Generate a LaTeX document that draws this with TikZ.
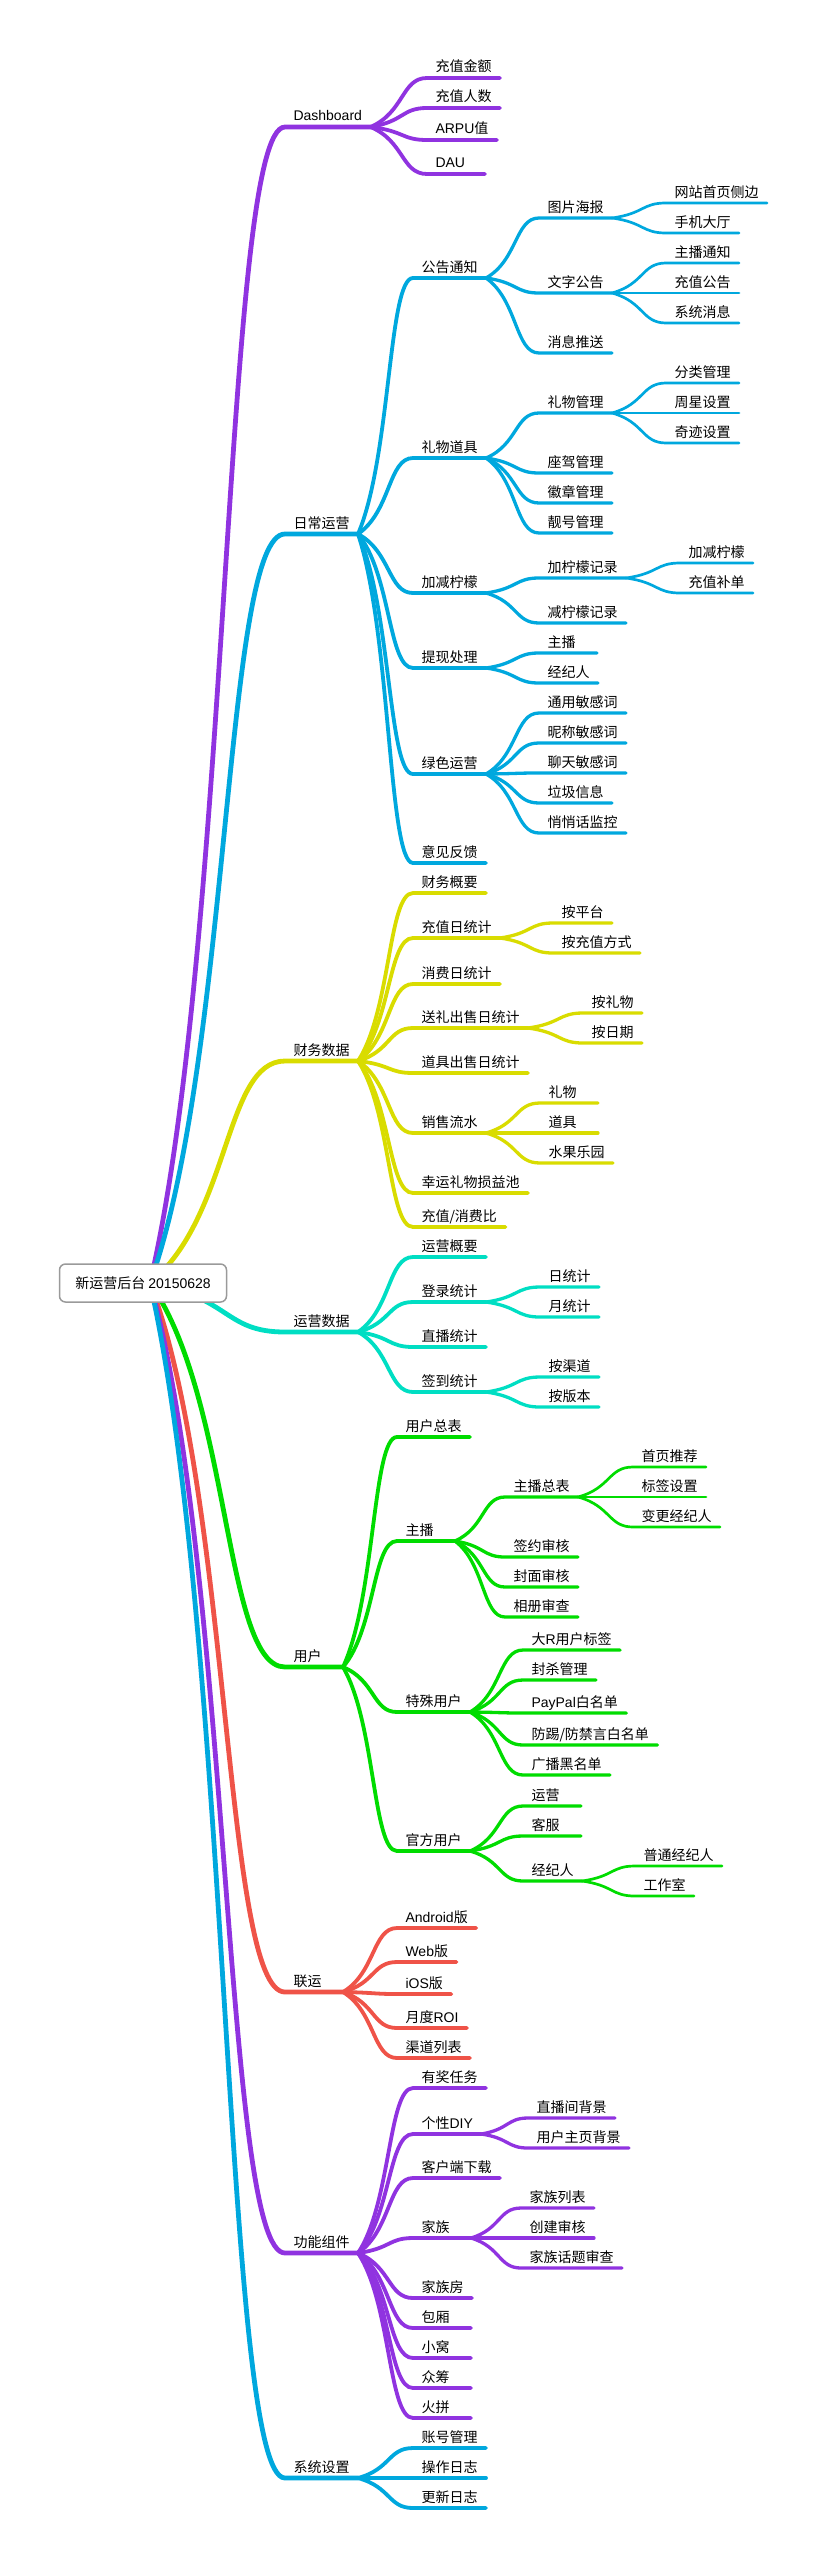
\documentclass[tikz,border=0pt]{standalone}
\usepackage{fontspec}
\setmainfont{Noto Sans CJK SC}
\newfontfamily\lat{Liberation Sans}
\usetikzlibrary{calc}
\definecolor{cpur}{HTML}{9033E0}
\definecolor{ccya}{HTML}{00A8DE}
\definecolor{cyel}{HTML}{D9DC00}
\definecolor{ctea}{HTML}{00DEC3}
\definecolor{cgre}{HTML}{00DC00}
\definecolor{cred}{HTML}{EF5348}
\definecolor{cbox}{HTML}{9A9A9A}
\tikzset{
  tp/.style={anchor=south west, inner xsep=8.5pt, inner ysep=6pt, outer sep=0pt, text depth=0pt, font=\fontsize{14}{16}\selectfont},
  short/.style={text width=41pt, align=left},
  br/.style={to path={let \p1=(\tikztostart), \p2=(\tikztotarget) in .. controls ({\x1+0.6*(\x2-\x1)},{\y1+0.3*(\y2-\y1)}) and ({\x1+0.55*(\x2-\x1)},\y2) .. (\tikztotarget)}},
  l1/.style={line width=4.8pt, line cap=round},
  l2/.style={line width=3.8pt, line cap=round},
  l3/.style={line width=3.3pt, line cap=round},
  l4/.style={line width=2.7pt, line cap=round},
  rootbox/.style={draw=cbox, line width=1.5pt, rounded corners=6pt, fill=white, minimum width=167pt, minimum height=38pt, inner sep=0pt, font=\fontsize{14}{16}\selectfont}
}
\begin{document}
\begin{tikzpicture}[x=1pt,y=-1pt]
\useasboundingbox (0,0) rectangle (827,2566);
\coordinate (hub) at (150,1283);

%% ---------------- Dashboard
\begin{scope}[draw=cpur]
\node[tp] (dash) at (285,127) {\lat Dashboard};
\draw[l1] (hub) to[br] (dash.south west) -- (dash.south east);
\node[tp] (d1) at (427,78) {充值金额};
\node[tp] (d2) at (427,108) {充值人数};
\node[tp] (d3) at (427,140) {{\lat ARPU}值};
\node[tp,short] (d4) at (427,174) {\lat DAU};
\foreach \c in {d1,d2,d3,d4} \draw[l2] (dash.south east) to[br] (\c.south west) -- (\c.south east);
\end{scope}

%% ---------------- 日常运营
\begin{scope}[draw=ccya]
\node[tp] (rc) at (285,534) {日常运营};
\draw[l1] (hub) to[br] (rc.south west) -- (rc.south east);
\node[tp] (gg) at (413,278) {公告通知};
\node[tp] (lw) at (413,458) {礼物道具};
\node[tp] (jj) at (413,593) {加减柠檬};
\node[tp] (tx) at (413,668) {提现处理};
\node[tp] (ls) at (413,774) {绿色运营};
\node[tp] (yj) at (413,863) {意见反馈};
\foreach \c in {gg,lw,jj,tx,ls,yj} \draw[l2] (rc.south east) to[br] (\c.south west) -- (\c.south east);
% 公告通知
\node[tp] (tp1) at (539,218) {图片海报};
\node[tp] (wz) at (539,293) {文字公告};
\node[tp] (xx) at (539,353) {消息推送};
\foreach \c in {tp1,wz,xx} \draw[l3] (gg.south east) to[br] (\c.south west) -- (\c.south east);
\node[tp] (tp1a) at (666,203) {网站首页侧边};
\node[tp] (tp1b) at (666,233) {手机大厅};
\foreach \c in {tp1a,tp1b} \draw[l4] (tp1.south east) to[br] (\c.south west) -- (\c.south east);
\node[tp] (wza) at (666,263) {主播通知};
\node[tp] (wzb) at (666,293) {充值公告};
\node[tp] (wzc) at (666,323) {系统消息};
\foreach \c in {wza,wzb,wzc} \draw[l4] (wz.south east) to[br] (\c.south west) -- (\c.south east);
% 礼物道具
\node[tp] (lwgl) at (539,413) {礼物管理};
\node[tp] (zj) at (539,473) {座驾管理};
\node[tp] (hz) at (539,503) {徽章管理};
\node[tp] (lh) at (539,533) {靓号管理};
\foreach \c in {lwgl,zj,hz,lh} \draw[l3] (lw.south east) to[br] (\c.south west) -- (\c.south east);
\node[tp] (fl) at (666,383) {分类管理};
\node[tp] (zx) at (666,413) {周星设置};
\node[tp] (qj) at (666,443) {奇迹设置};
\foreach \c in {fl,zx,qj} \draw[l4] (lwgl.south east) to[br] (\c.south west) -- (\c.south east);
% 加减柠檬
\node[tp] (jnm) at (539,578) {加柠檬记录};
\node[tp] (jian) at (539,623) {减柠檬记录};
\foreach \c in {jnm,jian} \draw[l3] (jj.south east) to[br] (\c.south west) -- (\c.south east);
\node[tp] (jnma) at (680,563) {加减柠檬};
\node[tp] (jnmb) at (680,593) {充值补单};
\foreach \c in {jnma,jnmb} \draw[l4] (jnm.south east) to[br] (\c.south west) -- (\c.south east);
% 提现处理
\node[tp,short] (txa) at (539,653) {主播};
\node[tp] (txb) at (539,683) {经纪人};
\foreach \c in {txa,txb} \draw[l3] (tx.south east) to[br] (\c.south west) -- (\c.south east);
% 绿色运营
\node[tp] (lsa) at (539,713) {通用敏感词};
\node[tp] (lsb) at (539,743) {昵称敏感词};
\node[tp] (lsc) at (539,773) {聊天敏感词};
\node[tp] (lsd) at (539,803) {垃圾信息};
\node[tp] (lse) at (539,833) {悄悄话监控};
\foreach \c in {lsa,lsb,lsc,lsd,lse} \draw[l3] (ls.south east) to[br] (\c.south west) -- (\c.south east);
\end{scope}

%% ---------------- 财务数据
\begin{scope}[draw=cyel]
\node[tp] (cw) at (285,1061) {财务数据};
\draw[l1] (hub) to[br] (cw.south west) -- (cw.south east);
\node[tp] (cwa) at (413,893) {财务概要};
\node[tp] (cwb) at (413,938) {充值日统计};
\node[tp] (cwc) at (413,984) {消费日统计};
\node[tp] (cwd) at (413,1028) {送礼出售日统计};
\node[tp] (cwe) at (413,1073) {道具出售日统计};
\node[tp] (cwf) at (413,1133) {销售流水};
\node[tp] (cwg) at (413,1193) {幸运礼物损益池};
\node[tp] (cwh) at (413,1227) {充值/消费比};
\foreach \c in {cwa,cwb,cwc,cwd,cwe,cwf,cwg,cwh} \draw[l2] (cw.south east) to[br] (\c.south west) -- (\c.south east);
\node[tp] (cwb1) at (553,923) {按平台};
\node[tp] (cwb2) at (553,953) {按充值方式};
\foreach \c in {cwb1,cwb2} \draw[l3] (cwb.south east) to[br] (\c.south west) -- (\c.south east);
\node[tp] (cwd1) at (583,1013) {按礼物};
\node[tp] (cwd2) at (583,1043) {按日期};
\foreach \c in {cwd1,cwd2} \draw[l3] (cwd.south east) to[br] (\c.south west) -- (\c.south east);
\node[tp,short] (cwf1) at (540,1103) {礼物};
\node[tp,short] (cwf2) at (540,1133) {道具};
\node[tp] (cwf3) at (540,1163) {水果乐园};
\foreach \c in {cwf1,cwf2,cwf3} \draw[l3] (cwf.south east) to[br] (\c.south west) -- (\c.south east);
\end{scope}

%% ---------------- 运营数据
\begin{scope}[draw=ctea]
\node[tp] (yy) at (285,1332) {运营数据};
\draw[l1] (hub) to[br] (yy.south west) -- (yy.south east);
\node[tp] (yya) at (413,1257) {运营概要};
\node[tp] (yyb) at (413,1302) {登录统计};
\node[tp] (yyc) at (413,1347) {直播统计};
\node[tp] (yyd) at (413,1392) {签到统计};
\foreach \c in {yya,yyb,yyc,yyd} \draw[l2] (yy.south east) to[br] (\c.south west) -- (\c.south east);
\node[tp] (yyb1) at (540,1287) {日统计};
\node[tp] (yyb2) at (540,1317) {月统计};
\foreach \c in {yyb1,yyb2} \draw[l3] (yyb.south east) to[br] (\c.south west) -- (\c.south east);
\node[tp] (yyd1) at (540,1377) {按渠道};
\node[tp] (yyd2) at (540,1407) {按版本};
\foreach \c in {yyd1,yyd2} \draw[l3] (yyd.south east) to[br] (\c.south west) -- (\c.south east);
\end{scope}

%% ---------------- 用户
\begin{scope}[draw=cgre]
\node[tp,short] (yh) at (285,1667) {用户};
\draw[l1] (hub) to[br] (yh.south west) -- (yh.south east);
\node[tp] (yha) at (397,1437) {用户总表};
\node[tp,short] (yhb) at (397,1541) {主播};
\node[tp] (yhc) at (397,1712) {特殊用户};
\node[tp] (yhd) at (397,1851) {官方用户};
\foreach \c in {yha,yhb,yhc,yhd} \draw[l2] (yh.south east) to[br] (\c.south west) -- (\c.south east);
\node[tp] (zb1) at (505,1497) {主播总表};
\node[tp] (zb2) at (505,1557) {签约审核};
\node[tp] (zb3) at (505,1587) {封面审核};
\node[tp] (zb4) at (505,1617) {相册审查};
\foreach \c in {zb1,zb2,zb3,zb4} \draw[l3] (yhb.south east) to[br] (\c.south west) -- (\c.south east);
\node[tp] (zb1a) at (633,1467) {首页推荐};
\node[tp] (zb1b) at (633,1497) {标签设置};
\node[tp] (zb1c) at (633,1527) {变更经纪人};
\foreach \c in {zb1a,zb1b,zb1c} \draw[l4] (zb1.south east) to[br] (\c.south west) -- (\c.south east);
\node[tp] (ts1) at (523,1650) {大{\lat R}用户标签};
\node[tp] (ts2) at (523,1680) {封杀管理};
\node[tp] (ts3) at (523,1713) {{\lat PayPal}白名单};
\node[tp] (ts4) at (523,1745) {防踢/防禁言白名单};
\node[tp] (ts5) at (523,1775) {广播黑名单};
\foreach \c in {ts1,ts2,ts3,ts4,ts5} \draw[l3] (yhc.south east) to[br] (\c.south west) -- (\c.south east);
\node[tp,short] (gf1) at (523,1806) {运营};
\node[tp,short] (gf2) at (523,1836) {客服};
\node[tp] (gf3) at (523,1881) {经纪人};
\foreach \c in {gf1,gf2,gf3} \draw[l3] (yhd.south east) to[br] (\c.south west) -- (\c.south east);
\node[tp] (gf3a) at (635,1866) {普通经纪人};
\node[tp] (gf3b) at (635,1896) {工作室};
\foreach \c in {gf3a,gf3b} \draw[l4] (gf3.south east) to[br] (\c.south west) -- (\c.south east);
\end{scope}

%% ---------------- 联运
\begin{scope}[draw=cred]
\node[tp,short] (ly) at (285,1992) {联运};
\draw[l1] (hub) to[br] (ly.south west) -- (ly.south east);
\node[tp] (lya) at (397,1928) {{\lat Android}版};
\node[tp] (lyb) at (397,1962) {{\lat Web}版};
\node[tp] (lyc) at (397,1994) {{\lat iOS}版};
\node[tp] (lyd) at (397,2028) {月度{\lat ROI}};
\node[tp] (lye) at (397,2058) {渠道列表};
\foreach \c in {lya,lyb,lyc,lyd,lye} \draw[l2] (ly.south east) to[br] (\c.south west) -- (\c.south east);
\end{scope}

%% ---------------- 功能组件
\begin{scope}[draw=cpur]
\node[tp] (gn) at (285,2253) {功能组件};
\draw[l1] (hub) to[br] (gn.south west) -- (gn.south east);
\node[tp] (gna) at (413,2088) {有奖任务};
\node[tp] (gnb) at (413,2134) {个性{\lat DIY}};
\node[tp] (gnc) at (413,2178) {客户端下载};
\node[tp,short] (gnd) at (413,2238) {家族};
\node[tp] (gne) at (413,2298) {家族房};
\node[tp,short] (gnf) at (413,2328) {包厢};
\node[tp,short] (gng) at (413,2358) {小窝};
\node[tp,short] (gnh) at (413,2388) {众筹};
\node[tp,short] (gni) at (413,2418) {火拼};
\foreach \c in {gna,gnb,gnc,gnd,gne,gnf,gng,gnh,gni} \draw[l2] (gn.south east) to[br] (\c.south west) -- (\c.south east);
\node[tp] (gnb1) at (528,2118) {直播间背景};
\node[tp] (gnb2) at (528,2148) {用户主页背景};
\foreach \c in {gnb1,gnb2} \draw[l3] (gnb.south east) to[br] (\c.south west) -- (\c.south east);
\node[tp] (gnd1) at (521,2208) {家族列表};
\node[tp] (gnd2) at (521,2238) {创建审核};
\node[tp] (gnd3) at (521,2268) {家族话题审查};
\foreach \c in {gnd1,gnd2,gnd3} \draw[l3] (gnd.south east) to[br] (\c.south west) -- (\c.south east);
\end{scope}

%% ---------------- 系统设置
\begin{scope}[draw=ccya]
\node[tp] (xt) at (285,2478) {系统设置};
\draw[l1] (hub) to[br] (xt.south west) -- (xt.south east);
\node[tp] (xta) at (413,2448) {账号管理};
\node[tp] (xtb) at (413,2478) {操作日志};
\node[tp] (xtc) at (413,2508) {更新日志};
\foreach \c in {xta,xtb,xtc} \draw[l2] (xt.south east) to[br] (\c.south west) -- (\c.south east);
\end{scope}

%% ---------------- root
\node[rootbox] (root) at (143,1283) {新运营后台 {\lat 20150628}};
\end{tikzpicture}
\end{document}
